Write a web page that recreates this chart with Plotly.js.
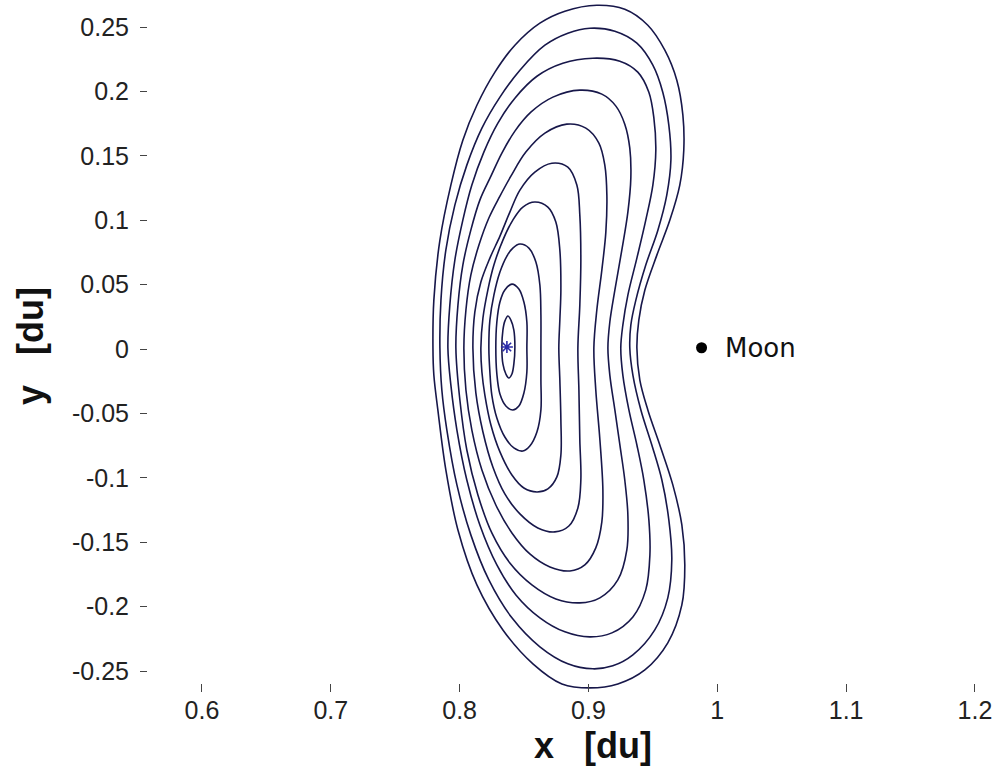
<!DOCTYPE html>
<html>
<head>
<meta charset="utf-8">
<script src="https://cdn.plot.ly/plotly-3.0.1.min.js"></script>
<style>
  html, body { margin: 0; padding: 0; background: #ffffff; }
  #chart { width: 1000px; height: 773px; }
</style>
</head>
<body>
<div id="chart"></div>
<script>
// Planar Lyapunov orbits about L1 (Earth–Moon CR3BP), x/y in distance units [du]
// Each orbit traced from its left x-axis crossing, over the top, down the Moon side and back.

const orbit1X = [0.7793,0.7800,0.7847,0.7932,0.8025,0.8134,0.8274,0.8429,0.8623,0.8817,0.9065,0.9282,0.9461,0.9593,0.9686,0.9733,0.9740,0.9709,0.9632,0.9531,0.9438,0.9391,0.9376,0.9399,0.9461,0.9554,0.9655,0.9725,0.9748,0.9725,0.9616,0.9438,0.9228,0.9011,0.8794,0.8569,0.8336,0.8134,0.7987,0.7893,0.7831,0.7800];
const orbit1Y = [0.0008,0.0380,0.0846,0.1273,0.1622,0.1893,0.2150,0.2359,0.2530,0.2623,0.2669,0.2638,0.2514,0.2320,0.2087,0.1816,0.1544,0.1273,0.1001,0.0729,0.0458,0.0225,0.0008,-0.0241,-0.0473,-0.0745,-0.1055,-0.1366,-0.1676,-0.1987,-0.2281,-0.2491,-0.2600,-0.2631,-0.2600,-0.2444,-0.2181,-0.1831,-0.1405,-0.0939,-0.0473,-0.0202];

const orbit2X = [0.7847,0.7855,0.7893,0.7963,0.8056,0.8173,0.8313,0.8468,0.8662,0.8840,0.9011,0.9205,0.9376,0.9500,0.9577,0.9624,0.9640,0.9608,0.9539,0.9445,0.9368,0.9329,0.9321,0.9345,0.9407,0.9492,0.9570,0.9624,0.9647,0.9616,0.9515,0.9345,0.9189,0.9034,0.8840,0.8623,0.8406,0.8227,0.8087,0.7979,0.7901,0.7862];
const orbit2Y = [0.0008,0.0380,0.0768,0.1117,0.1428,0.1715,0.1956,0.2165,0.2359,0.2452,0.2491,0.2468,0.2375,0.2204,0.1994,0.1738,0.1467,0.1195,0.0923,0.0652,0.0380,0.0186,0.0008,-0.0202,-0.0473,-0.0745,-0.1017,-0.1327,-0.1637,-0.1932,-0.2181,-0.2375,-0.2460,-0.2483,-0.2444,-0.2312,-0.2087,-0.1793,-0.1443,-0.1055,-0.0629,-0.0318];

const orbit3X = [0.7909,0.7924,0.7963,0.8025,0.8095,0.8188,0.8297,0.8429,0.8600,0.8801,0.9034,0.9244,0.9383,0.9469,0.9508,0.9523,0.9500,0.9445,0.9376,0.9306,0.9267,0.9251,0.9267,0.9314,0.9376,0.9430,0.9469,0.9477,0.9445,0.9345,0.9182,0.9011,0.8817,0.8623,0.8437,0.8289,0.8157,0.8056,0.7979,0.7932];
const orbit3Y = [0.0008,0.0341,0.0691,0.1001,0.1273,0.1529,0.1754,0.1948,0.2118,0.2219,0.2258,0.2235,0.2150,0.1994,0.1793,0.1544,0.1273,0.1001,0.0706,0.0419,0.0186,0.0008,-0.0202,-0.0473,-0.0745,-0.1017,-0.1327,-0.1599,-0.1870,-0.2080,-0.2204,-0.2235,-0.2196,-0.2087,-0.1909,-0.1676,-0.1366,-0.1017,-0.0629,-0.0279];

const orbit4X = [0.7971,0.7987,0.8025,0.8087,0.8157,0.8243,0.8328,0.8429,0.8553,0.8724,0.8933,0.9104,0.9213,0.9282,0.9321,0.9329,0.9306,0.9259,0.9205,0.9166,0.9151,0.9166,0.9205,0.9244,0.9282,0.9306,0.9298,0.9228,0.9089,0.8933,0.8747,0.8561,0.8390,0.8250,0.8142,0.8056,0.8002];
const orbit4Y = [0.0008,0.0341,0.0652,0.0923,0.1156,0.1342,0.1521,0.1692,0.1839,0.1956,0.2010,0.1979,0.1886,0.1746,0.1560,0.1327,0.1063,0.0768,0.0458,0.0210,0.0008,-0.0202,-0.0473,-0.0745,-0.1017,-0.1288,-0.1560,-0.1793,-0.1932,-0.1971,-0.1940,-0.1831,-0.1661,-0.1428,-0.1133,-0.0784,-0.0396];

const orbit5X = [0.8033,0.8049,0.8087,0.8150,0.8227,0.8313,0.8398,0.8514,0.8662,0.8832,0.8980,0.9081,0.9127,0.9143,0.9135,0.9104,0.9065,0.9042,0.9057,0.9089,0.9112,0.9104,0.9057,0.8972,0.8856,0.8701,0.8545,0.8406,0.8281,0.8173,0.8095,0.8049];
const orbit5Y = [0.0008,0.0303,0.0574,0.0807,0.1017,0.1187,0.1342,0.1529,0.1676,0.1746,0.1715,0.1599,0.1428,0.1195,0.0908,0.0613,0.0303,0.0008,-0.0318,-0.0706,-0.1094,-0.1342,-0.1544,-0.1676,-0.1723,-0.1692,-0.1591,-0.1428,-0.1211,-0.0939,-0.0629,-0.0318];

const orbit6X = [0.8103,0.8118,0.8165,0.8235,0.8313,0.8390,0.8468,0.8584,0.8716,0.8840,0.8910,0.8933,0.8941,0.8933,0.8918,0.8926,0.8933,0.8941,0.8918,0.8848,0.8739,0.8607,0.8468,0.8351,0.8258,0.8181,0.8126];
const orbit6Y = [0.0008,0.0287,0.0520,0.0706,0.0877,0.1063,0.1234,0.1374,0.1443,0.1412,0.1273,0.1040,0.0691,0.0341,0.0008,-0.0318,-0.0706,-0.1017,-0.1234,-0.1374,-0.1420,-0.1389,-0.1280,-0.1125,-0.0916,-0.0644,-0.0341];

const orbit7X = [0.8165,0.8181,0.8219,0.8266,0.8336,0.8413,0.8491,0.8584,0.8685,0.8747,0.8778,0.8786,0.8778,0.8770,0.8778,0.8786,0.8786,0.8755,0.8685,0.8600,0.8499,0.8406,0.8313,0.8243,0.8196,0.8173];
const orbit7Y = [0.0008,0.0241,0.0458,0.0652,0.0846,0.1001,0.1102,0.1141,0.1102,0.0986,0.0768,0.0458,0.0225,0.0008,-0.0241,-0.0551,-0.0823,-0.0993,-0.1086,-0.1110,-0.1079,-0.0978,-0.0799,-0.0590,-0.0357,-0.0178];

const orbit8X = [0.8227,0.8235,0.8266,0.8313,0.8367,0.8413,0.8468,0.8538,0.8592,0.8623,0.8631,0.8631,0.8631,0.8631,0.8600,0.8545,0.8491,0.8421,0.8351,0.8289,0.8250,0.8235];
const orbit8Y = [0.0008,0.0225,0.0419,0.0598,0.0722,0.0784,0.0815,0.0784,0.0675,0.0497,0.0264,0.0008,-0.0241,-0.0473,-0.0644,-0.0753,-0.0792,-0.0768,-0.0683,-0.0535,-0.0357,-0.0178];

const orbit9X = [0.8281,0.8289,0.8313,0.8351,0.8406,0.8460,0.8499,0.8522,0.8522,0.8522,0.8499,0.8460,0.8413,0.8359,0.8313,0.8289];
const orbit9Y = [0.0008,0.0210,0.0365,0.0458,0.0504,0.0466,0.0365,0.0210,0.0008,-0.0178,-0.0341,-0.0442,-0.0473,-0.0442,-0.0349,-0.0194];

const orbit10X = [0.8328,0.8336,0.8351,0.8375,0.8398,0.8421,0.8429,0.8421,0.8406,0.8382,0.8359,0.8336];
const orbit10Y = [0.0016,0.0147,0.0217,0.0256,0.0225,0.0147,0.0016,-0.0116,-0.0194,-0.0225,-0.0194,-0.0116];

// Libration point and Moon
const l1Point = { x: 0.8367, y: 0.0016 };
const moonPoint = { x: 0.9878, y: 0.0010, label: 'Moon' };

// Axis ticks
const xTickVals = [0.6, 0.7, 0.8, 0.9, 1.0, 1.1, 1.2];
const xTickText = ['0.6', '0.7', '0.8', '0.9', '1', '1.1', '1.2'];
const yTickVals = [0.25, 0.2, 0.15, 0.1, 0.05, 0, -0.05, -0.1, -0.15, -0.2, -0.25];
const yTickText = ['0.25', '0.2', '0.15', '0.1', '0.05', '0', '-0.05', '-0.1', '-0.15', '-0.2', '-0.25'];

const orbitList = [
  [orbit1X, orbit1Y], [orbit2X, orbit2Y], [orbit3X, orbit3Y], [orbit4X, orbit4Y],
  [orbit5X, orbit5Y], [orbit6X, orbit6Y], [orbit7X, orbit7Y], [orbit8X, orbit8Y],
  [orbit9X, orbit9Y], [orbit10X, orbit10Y]
];

const orbitColor = '#17174a';
const traces = orbitList.map(([xs, ys]) => ({
  type: 'scatter',
  mode: 'lines',
  x: xs.concat([xs[0]]),
  y: ys.concat([ys[0]]),
  line: { color: orbitColor, width: 1.6, shape: 'spline', smoothing: 1.0 },
  hoverinfo: 'skip',
  showlegend: false
}));

traces.push({
  type: 'scatter', mode: 'markers',
  x: [l1Point.x], y: [l1Point.y],
  marker: { symbol: 'asterisk-open', size: 10, color: '#2b2ba8', line: { color: '#2b2ba8', width: 1.6 } },
  showlegend: false
});
traces.push({
  type: 'scatter', mode: 'markers',
  x: [moonPoint.x], y: [moonPoint.y],
  marker: { symbol: 'circle', size: 11, color: '#000000' },
  showlegend: false
});

const tickFont = { family: 'Liberation Sans, Arial, sans-serif', size: 25, color: '#222222' };
const titleFont = { family: 'Liberation Sans, Arial, sans-serif', size: 36, color: '#111111' };

const layout = {
  width: 1000,
  height: 773,
  margin: { l: 140, r: 10, t: 0, b: 81 },
  paper_bgcolor: '#ffffff',
  plot_bgcolor: '#ffffff',
  showlegend: false,
  xaxis: {
    range: [0.5519, 1.2117],
    tickvals: xTickVals, ticktext: xTickText,
    ticks: 'inside', ticklen: 8, tickwidth: 1, tickcolor: '#444444',
    showline: false, showgrid: false, zeroline: false,
    tickfont: tickFont, ticklabelstandoff: 1
  },
  yaxis: {
    range: [-0.2663, 0.271],
    tickvals: yTickVals, ticktext: yTickText,
    ticks: 'inside', ticklen: 7, tickwidth: 1, tickcolor: '#444444',
    showline: false, showgrid: false, zeroline: false,
    tickfont: tickFont, ticklabelstandoff: 10
  },
  annotations: [
    {
      x: moonPoint.x, y: moonPoint.y, xref: 'x', yref: 'y',
      text: moonPoint.label, showarrow: false,
      xanchor: 'left', yanchor: 'middle', xshift: 21,
      font: { family: 'DejaVu Sans, sans-serif', size: 26, color: '#111111' }
    },
    {
      text: '<b>x   [du]</b>', showarrow: false, xref: 'paper', yref: 'paper',
      font: titleFont
    },
    {
      text: '<b>y   [du]</b>', showarrow: false, textangle: -90, xref: 'paper', yref: 'paper',
      font: titleFont
    }
  ]
};

// Axis titles placed in pixel terms relative to the plot area
const plotW = 1000 - 140 - 10, plotH = 773 - 81;
Object.assign(layout.annotations[1], {
  x: (593 - 140) / plotW, y: -(745 - plotH) / plotH, xanchor: 'center', yanchor: 'middle'
});
Object.assign(layout.annotations[2], {
  x: (30 - 140) / plotW, y: 1 - 346 / plotH, xanchor: 'center', yanchor: 'middle'
});

Plotly.newPlot('chart', traces, layout, { staticPlot: true, displayModeBar: false });
</script>
</body>
</html>
